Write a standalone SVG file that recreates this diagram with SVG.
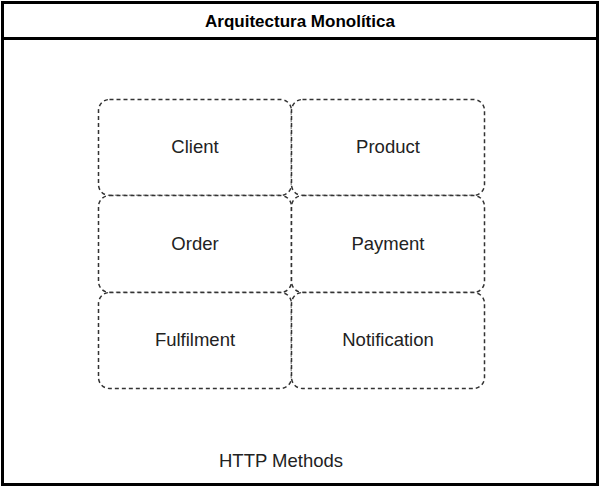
<svg xmlns="http://www.w3.org/2000/svg" width="600" height="488" viewBox="0 0 600 488">
<style>
.frame{fill:#fff;stroke:#000;stroke-width:3}
.box{fill:#fff;stroke:#333;stroke-width:1.5;stroke-dasharray:4 3}
.lbl{font-family:"Liberation Sans",Arial,sans-serif;font-size:18.5px;fill:#222;text-anchor:middle;dominant-baseline:central}
.title{font-family:"Liberation Sans",Arial,sans-serif;font-size:17px;font-weight:bold;fill:#000;text-anchor:middle;dominant-baseline:central}
</style>
<rect width="600" height="488" fill="#fff"/>
<g id="container">
<rect class="frame" x="2.5" y="2.5" width="595" height="482"/>
<line x1="2.5" y1="38.5" x2="597.5" y2="38.5" stroke="#000" stroke-width="3"/>
<text class="title" x="300" y="21">Arquitectura Monolítica</text>
</g>
<g id="client"><rect class="box" x="98.5" y="99.5" width="193" height="96" rx="11"/><text class="lbl" x="195" y="146">Client</text></g>
<g id="product"><rect class="box" x="291.5" y="99.5" width="193" height="96" rx="11"/><text class="lbl" x="388" y="146">Product</text></g>
<g id="order"><rect class="box" x="98.5" y="195.5" width="193" height="97" rx="11"/><text class="lbl" x="195" y="243">Order</text></g>
<g id="payment"><rect class="box" x="291.5" y="195.5" width="193" height="97" rx="11"/><text class="lbl" x="388" y="243">Payment</text></g>
<g id="fulfilment"><rect class="box" x="98.5" y="292.5" width="193" height="96" rx="11"/><text class="lbl" x="195" y="339">Fulfilment</text></g>
<g id="notification"><rect class="box" x="291.5" y="292.5" width="193" height="96" rx="11"/><text class="lbl" x="388" y="339">Notification</text></g>
<g id="http"><text class="lbl" x="281" y="460">HTTP Methods</text></g>
<g id="connectors"></g>
</svg>
